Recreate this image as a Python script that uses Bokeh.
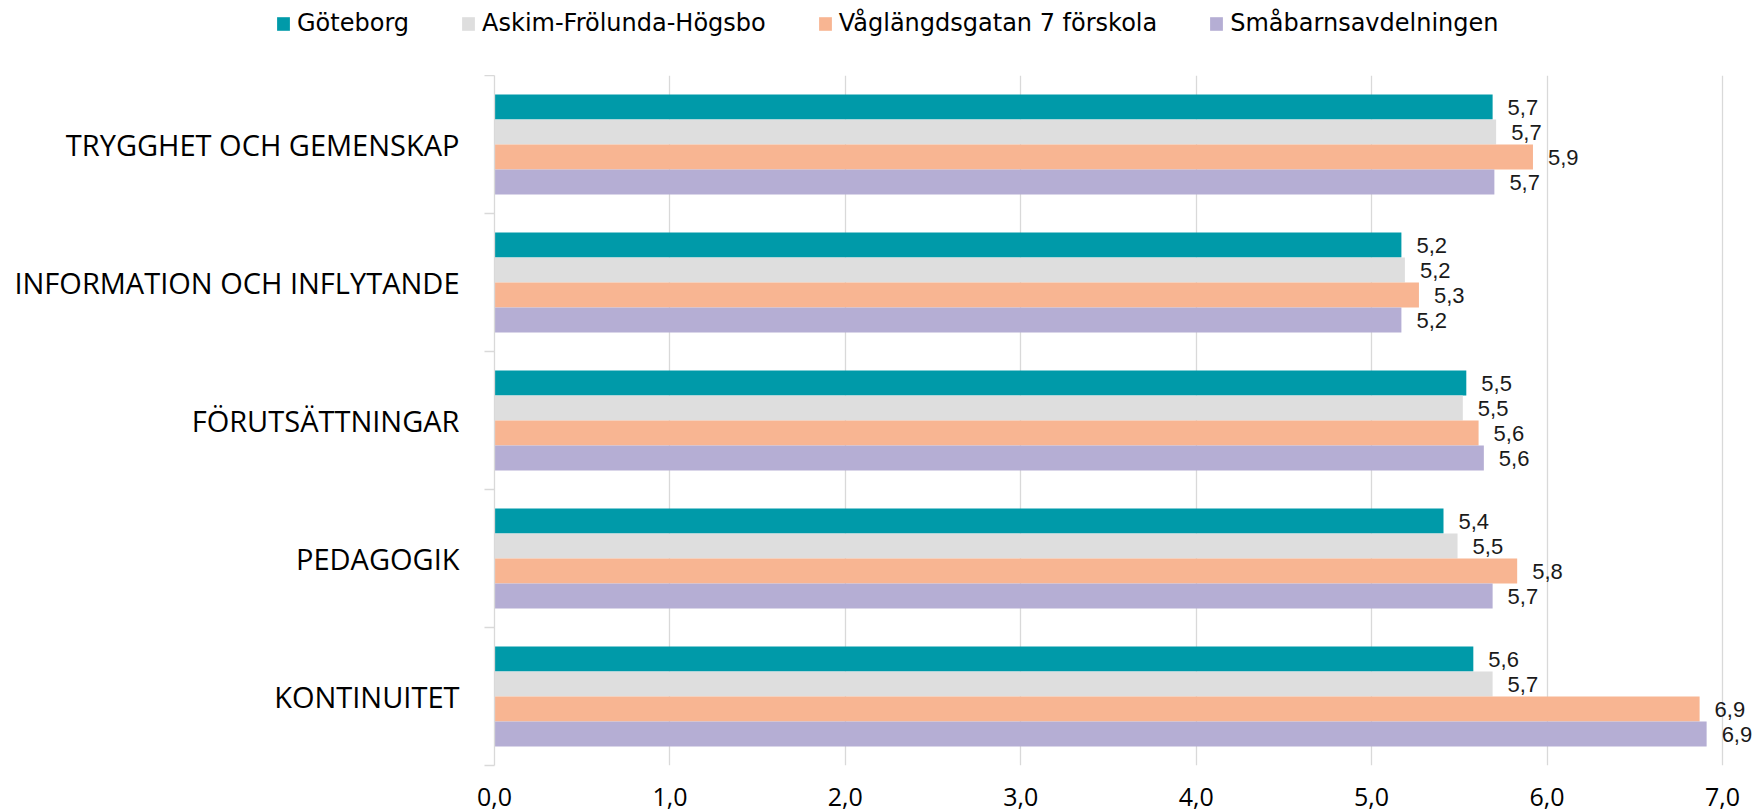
from bokeh.plotting import figure
from bokeh.layouts import column
from bokeh.models import (ColumnDataSource, Range1d, FixedTicker, CustomJSTickFormatter,
                          LabelSet, Legend, LegendItem)
from bokeh.core.properties import value
from bokeh.embed import file_html
from bokeh.resources import INLINE

categories = ["TRYGGHET OCH GEMENSKAP", "INFORMATION OCH INFLYTANDE", "FÖRUTSÄTTNINGAR",
              "PEDAGOGIK", "KONTINUITET"]
series = ["Göteborg", "Askim-Frölunda-Högsbo", "Våglängdsgatan 7 förskola", "Småbarnsavdelningen"]
goteborg = [5.69, 5.17, 5.54, 5.41, 5.58]
askim = [5.71, 5.19, 5.52, 5.49, 5.69]
vaglangd = [5.92, 5.27, 5.61, 5.83, 6.87]
smabarn = [5.70, 5.17, 5.64, 5.69, 6.91]
x_ticks = [0, 1, 2, 3, 4, 5, 6, 7]

colors = ["#009aa9", "#dedede", "#f8b592", "#b5aed4"]
values = [goteborg, askim, vaglangd, smabarn]

n = len(categories)
bar_h = 25 / 138
offsets = [1.5 * bar_h, 0.5 * bar_h, -0.5 * bar_h, -1.5 * bar_h]

# ---- main chart ----
p = figure(width=1757, height=737, output_backend="svg", toolbar_location=None,
           x_range=Range1d(0, 7.2), y_range=Range1d(0, n),
           min_border_left=494, min_border_right=0, min_border_top=0, min_border_bottom=47)
p.outline_line_color = None
p.background_fill_color = "white"
p.frame_align = False

# ---- legend strip (top) ----
leg = figure(width=1757, height=75, output_backend="svg", toolbar_location=None,
             x_axis_type=None, y_axis_type=None, x_range=Range1d(0, 1), y_range=Range1d(0, 1),
             min_border_left=0, min_border_right=0, min_border_top=0, min_border_bottom=0)
leg.outline_line_color = None
leg.grid.visible = False
leg.frame_align = False

leg_renderers = []
for vals, col, off in zip(values, colors, offsets):
    ys = [n - i - 0.5 + off for i in range(n)]
    src = ColumnDataSource(dict(y=ys, x=vals,
                                lab=[f"{v:.1f}".replace(".", ",") for v in vals]))
    p.hbar(y="y", right="x", left=0, height=bar_h, source=src,
           fill_color=col, line_color=None)
    p.add_layout(LabelSet(x="x", y="y", text="lab", source=src, x_offset=15,
                          text_baseline="middle", text_align="left",
                          text_font=value("Liberation Sans"), text_font_size="22px",
                          text_color="#1a1a1a"))
    # legend proxy (hidden) sharing the same data
    leg_renderers.append(leg.hbar(y="y", right="x", left=0, height=bar_h, source=src,
                                  fill_color=col, line_color=None, visible=False))

legend = Legend(items=[LegendItem(label=s, renderers=[r]) for s, r in zip(series, leg_renderers)],
                orientation="horizontal", location=(275, 38),
                glyph_width=16, glyph_height=17, label_standoff=6, spacing=51,
                padding=0, margin=0, border_line_color=None, background_fill_alpha=0,
                inactive_fill_alpha=0,
                label_text_font="DejaVu Sans", label_text_font_size="24px",
                label_text_color="#000000")
leg.add_layout(legend, "center")

# x axis
xa = p.xaxis[0]
xa.ticker = FixedTicker(ticks=x_ticks)
xa.formatter = CustomJSTickFormatter(code="return tick.toFixed(1).replace('.', ',');")
xa.axis_line_color = None
xa.major_tick_line_color = None
xa.minor_tick_line_color = None
xa.major_tick_out = 0
xa.major_tick_in = 0
xa.major_label_text_font = "Open Sans"
xa.major_label_text_font_size = "25px"
xa.major_label_text_color = "#000000"
xa.major_label_standoff = 22

# y axis
ya = p.yaxis[0]
ya.ticker = FixedTicker(ticks=[i + 0.5 for i in range(n)], minor_ticks=list(range(n + 1)))
ya.formatter = CustomJSTickFormatter(args=dict(cats=categories),
                                     code="return cats[cats.length - 1 - Math.floor(tick)];")
ya.axis_line_color = "#d9d9d9"
ya.axis_line_width = 1.3
ya.major_tick_line_color = None
ya.major_tick_out = 0
ya.major_tick_in = 0
ya.minor_tick_line_color = "#d9d9d9"
ya.minor_tick_line_width = 1.3
ya.minor_tick_out = 10
ya.minor_tick_in = 0
ya.major_label_standoff = 25
ya.major_label_text_font = "Open Sans"
ya.major_label_text_font_size = "29px"
ya.major_label_text_color = "#000000"

p.xgrid.ticker = FixedTicker(ticks=x_ticks)
p.xgrid.grid_line_color = "#d9d9d9"
p.xgrid.grid_line_width = 1.3
p.ygrid.grid_line_color = None

layout = column(leg, p, spacing=0)
open("out.html", "w").write(file_html(layout, INLINE))
